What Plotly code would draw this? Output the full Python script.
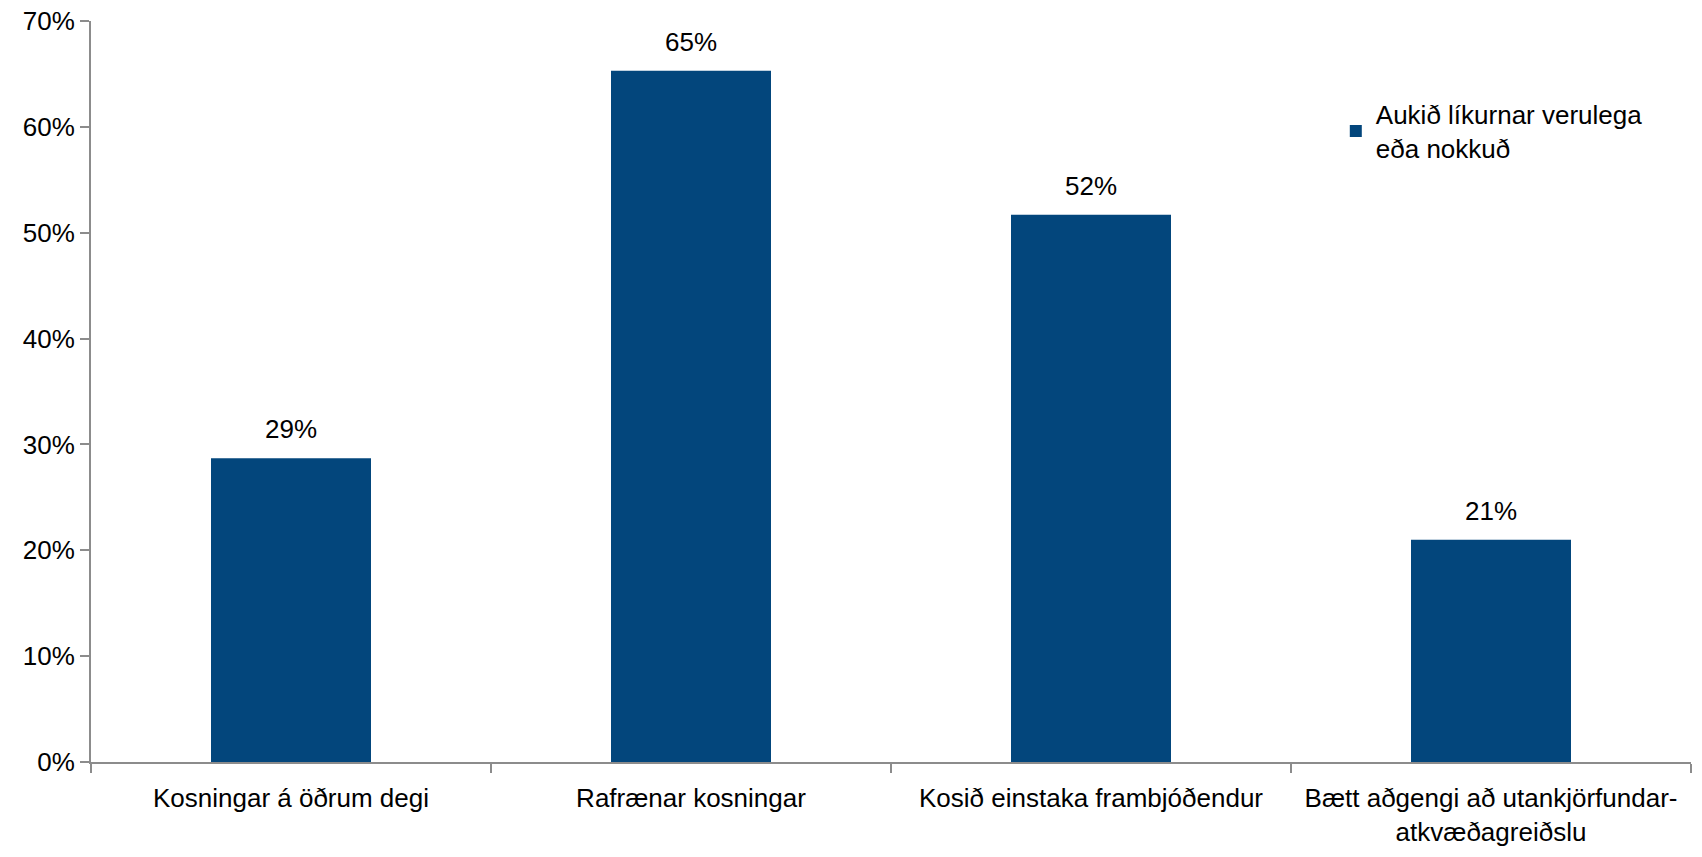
import plotly.graph_objects as go

categories = [
    "Kosningar á öðrum degi",
    "Rafrænar kosningar",
    "Kosið einstaka frambjóðendur",
    "Bætt aðgengi að utankjörfundar-<br>atkvæðagreiðslu",
]
values = [0.287, 0.653, 0.517, 0.21]
labels = ["29%", "65%", "52%", "21%"]
y_ticks = [0, 0.1, 0.2, 0.3, 0.4, 0.5, 0.6, 0.7]
series_name = "Aukið líkurnar verulega<br>eða nokkuð"

FONT = "Liberation Sans Narrow, Arial Narrow, Liberation Sans, Arial"
BAR = "#03467C"
AX = "#8C8C8C"
FS = 26

fig = go.Figure(
    go.Bar(
        x=categories,
        y=values,
        name=series_name,
        marker=dict(color=BAR, line=dict(width=0)),
        width=0.4,
        showlegend=True,
        hoverinfo="x+y",
    )
)

for c, v, t in zip(categories, values, labels):
    fig.add_annotation(
        x=c, y=v, text=t, showarrow=False,
        yanchor="bottom", yshift=12,
        font=dict(size=FS, family=FONT, color="black"),
    )

fig.update_layout(
    width=1702,
    height=857,
    paper_bgcolor="white",
    plot_bgcolor="white",
    margin=dict(l=91, r=11, t=21, b=95),
    font=dict(family=FONT, size=FS, color="black"),
    legend=dict(
        x=0.778,
        y=0.906,
        xanchor="left",
        yanchor="top",
        font=dict(size=FS, family=FONT, color="black"),
        bgcolor="rgba(0,0,0,0)",
        itemwidth=30,
    ),
    xaxis=dict(
        showline=True,
        linecolor=AX,
        linewidth=2,
        ticks="outside",
        tickson="boundaries",
        ticklen=9,
        tickcolor=AX,
        tickwidth=2,
        showgrid=False,
        tickangle=0,
        automargin=False,
        ticklabelstandoff=12,
        tickfont=dict(size=FS, family=FONT, color="black"),
    ),
    yaxis=dict(
        range=[0, 0.7],
        tickmode="array",
        tickvals=y_ticks,
        ticktext=[f"{round(v*100)}%" for v in y_ticks],
        showline=True,
        linecolor=AX,
        linewidth=2,
        ticks="outside",
        ticklen=9,
        tickcolor=AX,
        tickwidth=2,
        showgrid=False,
        zeroline=False,
        automargin=False,
        tickfont=dict(size=FS, family=FONT, color="black"),
    ),
)

fig.write_html(
    "out.html",
    config={"displayModeBar": False},
    post_script="document.body.style.margin='0';document.body.style.overflow='hidden';",
)
